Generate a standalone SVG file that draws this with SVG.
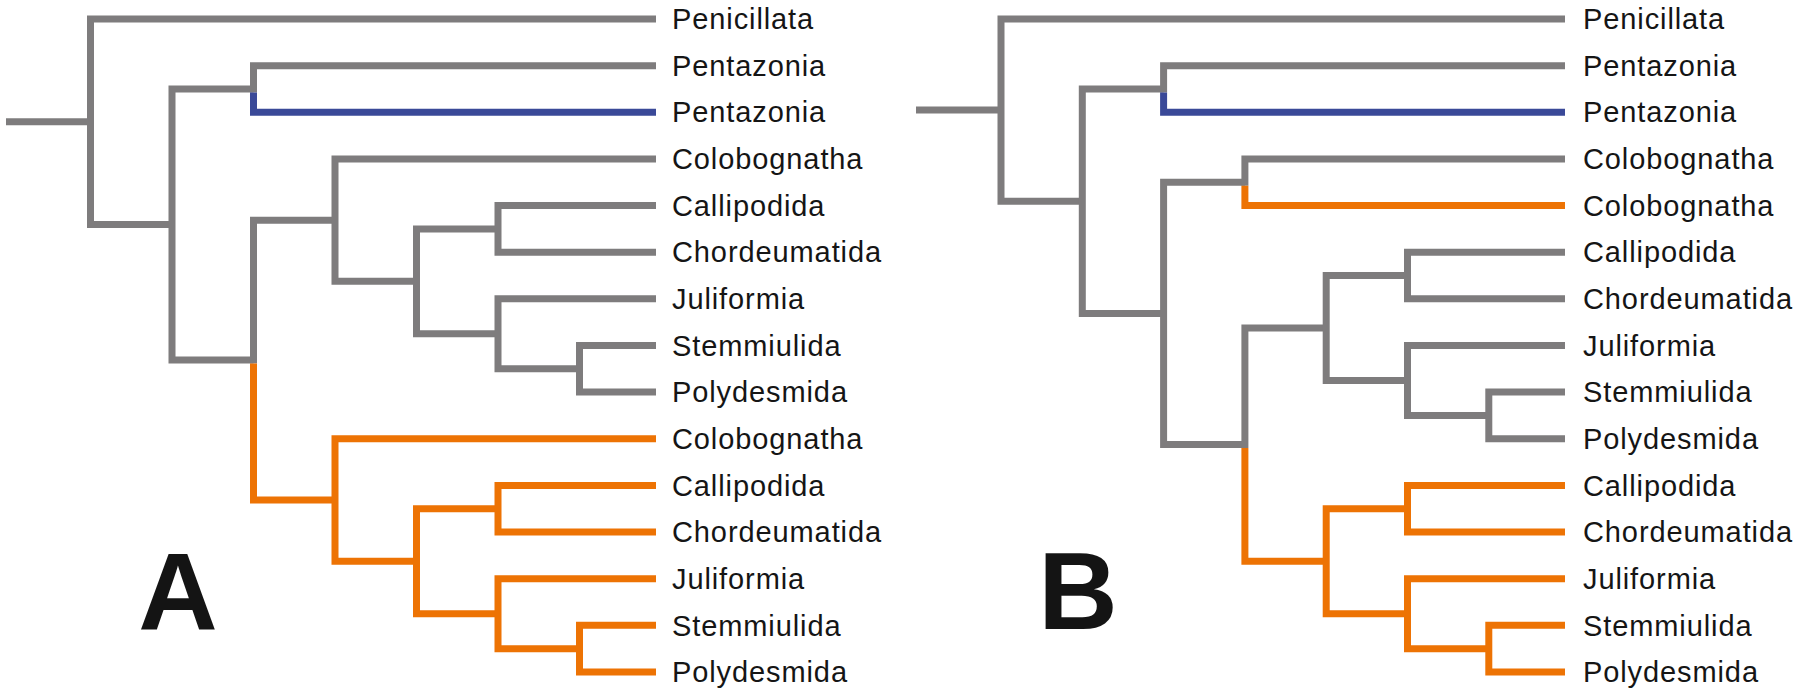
<svg xmlns="http://www.w3.org/2000/svg" width="1802" height="694" viewBox="0 0 1802 694">
<style>
.br{fill:none;stroke-width:7;stroke-linejoin:miter;stroke-linecap:butt}
.g{stroke:#7e7c7d}
.b{stroke:#3a4998}
.o{stroke:#ed7304}
.lb{font-family:"Liberation Sans",Arial,sans-serif;font-size:29px;letter-spacing:0.9px;fill:#151515}
.pl{font-family:"Liberation Sans",Arial,sans-serif;font-size:110px;font-weight:bold;fill:#141414;text-anchor:middle}
</style>
<rect width="1802" height="694" fill="#fff"/>
<g id="connectors">
<!-- Panel A -->
<path class="br g" d="M6 121.76 H90.5"/>
<path class="br g" d="M656 19 H90.5 V224.51 H172"/>
<path class="br g" d="M253.5 88.96 H172 V360.06 H253.5"/>
<path class="br g" d="M656 65.64 H253.5 V92.46"/>
<path class="br b" d="M253.5 92.46 V112.28 H656"/>
<path class="br g" d="M335 220.14 H253.5 V363.56"/>
<path class="br o" d="M253.5 363.56 V499.98 H335"/>
<path class="br g" d="M656 158.92 H335 V281.35 H416.5"/>
<path class="br g" d="M498 228.88 H416.5 V333.82 H498"/>
<path class="br g" d="M656 205.56 H498 V252.2 H656"/>
<path class="br g" d="M656 298.84 H498 V368.8 H579.5"/>
<path class="br g" d="M656 345.48 H579.5 V392.12 H656"/>
<path class="br o" d="M656 438.76 H335 V561.19 H416.5"/>
<path class="br o" d="M498 508.72 H416.5 V613.66 H498"/>
<path class="br o" d="M656 485.4 H498 V532.04 H656"/>
<path class="br o" d="M656 578.68 H498 V648.64 H579.5"/>
<path class="br o" d="M656 625.32 H579.5 V671.96 H656"/>
<!-- Panel B -->
<path class="br g" d="M916 110.1 H1001"/>
<path class="br g" d="M1565 19 H1001 V201.19 H1082.3"/>
<path class="br g" d="M1163.6 88.96 H1082.3 V313.42 H1163.6"/>
<path class="br g" d="M1565 65.64 H1163.6 V92.46"/>
<path class="br b" d="M1163.6 92.46 V112.28 H1565"/>
<path class="br g" d="M1244.9 182.24 H1163.6 V444.59 H1244.9"/>
<path class="br g" d="M1565 158.92 H1244.9 V185.74"/>
<path class="br o" d="M1244.9 185.74 V205.56 H1565"/>
<path class="br g" d="M1326.2 327.99 H1244.9 V448.09"/>
<path class="br o" d="M1244.9 448.09 V561.19 H1326.2"/>
<path class="br g" d="M1407.5 275.52 H1326.2 V380.46 H1407.5"/>
<path class="br g" d="M1565 252.2 H1407.5 V298.84 H1565"/>
<path class="br g" d="M1565 345.48 H1407.5 V415.44 H1488.8"/>
<path class="br g" d="M1565 392.12 H1488.8 V438.76 H1565"/>
<path class="br o" d="M1407.5 508.72 H1326.2 V613.66 H1407.5"/>
<path class="br o" d="M1565 485.4 H1407.5 V532.04 H1565"/>
<path class="br o" d="M1565 578.68 H1407.5 V648.64 H1488.8"/>
<path class="br o" d="M1565 625.32 H1488.8 V671.96 H1565"/>
</g>
<g id="panelA-labels">
<g id="a-penicillata"><text class="lb" x="672" y="29.2">Penicillata</text></g>
<g id="a-pentazonia1"><text class="lb" x="672" y="75.84">Pentazonia</text></g>
<g id="a-pentazonia2"><text class="lb" x="672" y="122.48">Pentazonia</text></g>
<g id="a-colobognatha1"><text class="lb" x="672" y="169.12">Colobognatha</text></g>
<g id="a-callipodida1"><text class="lb" x="672" y="215.76">Callipodida</text></g>
<g id="a-chordeumatida1"><text class="lb" x="672" y="262.4">Chordeumatida</text></g>
<g id="a-juliformia1"><text class="lb" x="672" y="309.04">Juliformia</text></g>
<g id="a-stemmiulida1"><text class="lb" x="672" y="355.68">Stemmiulida</text></g>
<g id="a-polydesmida1"><text class="lb" x="672" y="402.32">Polydesmida</text></g>
<g id="a-colobognatha2"><text class="lb" x="672" y="448.96">Colobognatha</text></g>
<g id="a-callipodida2"><text class="lb" x="672" y="495.6">Callipodida</text></g>
<g id="a-chordeumatida2"><text class="lb" x="672" y="542.24">Chordeumatida</text></g>
<g id="a-juliformia2"><text class="lb" x="672" y="588.88">Juliformia</text></g>
<g id="a-stemmiulida2"><text class="lb" x="672" y="635.52">Stemmiulida</text></g>
<g id="a-polydesmida2"><text class="lb" x="672" y="682.16">Polydesmida</text></g>
<g id="label-A"><text class="pl" x="178" y="629">A</text></g>
</g>
<g id="panelB-labels">
<g id="b-penicillata"><text class="lb" x="1583" y="29.2">Penicillata</text></g>
<g id="b-pentazonia1"><text class="lb" x="1583" y="75.84">Pentazonia</text></g>
<g id="b-pentazonia2"><text class="lb" x="1583" y="122.48">Pentazonia</text></g>
<g id="b-colobognatha1"><text class="lb" x="1583" y="169.12">Colobognatha</text></g>
<g id="b-colobognatha2"><text class="lb" x="1583" y="215.76">Colobognatha</text></g>
<g id="b-callipodida1"><text class="lb" x="1583" y="262.4">Callipodida</text></g>
<g id="b-chordeumatida1"><text class="lb" x="1583" y="309.04">Chordeumatida</text></g>
<g id="b-juliformia1"><text class="lb" x="1583" y="355.68">Juliformia</text></g>
<g id="b-stemmiulida1"><text class="lb" x="1583" y="402.32">Stemmiulida</text></g>
<g id="b-polydesmida1"><text class="lb" x="1583" y="448.96">Polydesmida</text></g>
<g id="b-callipodida2"><text class="lb" x="1583" y="495.6">Callipodida</text></g>
<g id="b-chordeumatida2"><text class="lb" x="1583" y="542.24">Chordeumatida</text></g>
<g id="b-juliformia2"><text class="lb" x="1583" y="588.88">Juliformia</text></g>
<g id="b-stemmiulida2"><text class="lb" x="1583" y="635.52">Stemmiulida</text></g>
<g id="b-polydesmida2"><text class="lb" x="1583" y="682.16">Polydesmida</text></g>
<g id="label-B"><text class="pl" x="1078" y="629">B</text></g>
</g>
</svg>
